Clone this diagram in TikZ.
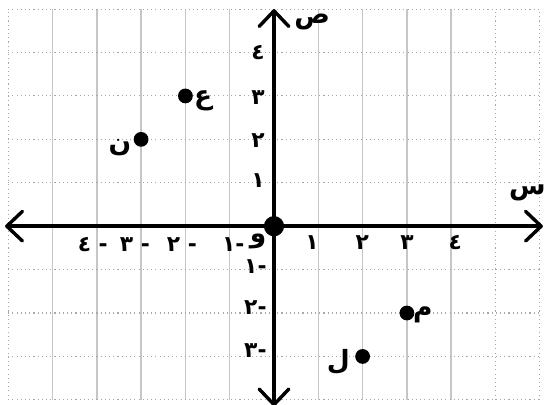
\documentclass[tikz,border=0pt]{standalone}
\usepackage{fontspec}
\usepackage{xcolor}
\usepackage{tikz}
\usetikzlibrary{arrows.meta}
\TeXXeTstate=1
\newfontfamily\arabicfont[Script=Arabic]{DejaVu Sans}
\definecolor{GridGrey}{HTML}{C6C6C6}
\definecolor{DotGrey}{HTML}{A8A8A8}
\tikzset{
  gridv/.style = {draw=GridGrey, line width=1pt},
  gridd/.style = {draw=DotGrey, line width=0.7pt, dotted},
  axis/.style  = {draw=black, line width=2.5pt, line cap=round,
                  {Straight Barb[length=10pt,width=19pt,line width=2.2pt,round]}-{Straight Barb[length=10pt,width=19pt,line width=2.2pt,round]}},
  pnt/.style   = {circle, fill=black, inner sep=0pt, minimum size=9.5pt},
  orig/.style  = {pnt, minimum size=13pt},
  num/.style   = {font=\arabicfont\bfseries\fontsize{14}{14}\selectfont, inner sep=0pt},
  lbl/.style   = {font=\arabicfont\bfseries\fontsize{17}{17}\selectfont, inner sep=0pt},
}

\begin{document}
\begin{tikzpicture}[x=1cm, y=0.98cm]

  \useasboundingbox (-6.185,-4.10) rectangle (6.117,5.21);

  % grid
  \foreach \x in {-5,...,4}
    \draw[gridv] (\x,-4) -- (\x,5);
  \foreach \x in {-6,5,6}
    \draw[gridd] (\x,-4) -- (\x,5);
  \foreach \y in {-4,...,5}
    \draw[gridd] (-6,\y) -- (6,\y);

  % axes
  \coordinate (xl) at (-6.07,0);
  \coordinate (xr) at (6.07,0);
  \coordinate (yt) at (0,5.0);
  \coordinate (yb) at (0,-4.15);
  \draw[axis] (xl) -- (xr);
  \draw[axis] (yb) -- (yt);

  \node[lbl] (ylab) at (0.86,4.70) {\beginR ص\endR};
  \node[lbl] (xlab) at (5.72,0.76) {\beginR س\endR};

  % ticks on x
  \node[num] (x1) at (0.86,-0.38) {١};
  \node[num] (x2) at (1.99,-0.38) {٢};
  \node[num] (x3) at (3.00,-0.38) {٣};
  \node[num] (x4) at (4.09,-0.38) {٤};
  \node[num] (xm1) at (-0.92,-0.42) {\beginR -١\endR};
  \node[num] (xm2) at (-2.08,-0.42) {\beginR - ٢\endR};
  \node[num] (xm3) at (-3.14,-0.42) {\beginR - ٣\endR};
  \node[num] (xm4) at (-4.09,-0.42) {\beginR - ٤\endR};
  \node[lbl] (o) at (-0.36,-0.36) {\beginR و\endR};

  % ticks on y
  \node[num] (y1) at (-0.36,1.06) {١};
  \node[num] (y2) at (-0.36,1.98) {٢};
  \node[num] (y3) at (-0.36,2.97) {٣};
  \node[num] (y4) at (-0.36,3.99) {٤};
  \node[num] (ym1) at (-0.42,-0.94) {\beginR -١\endR};
  \node[num] (ym2) at (-0.42,-1.87) {\beginR -٢\endR};
  \node[num] (ym3) at (-0.42,-2.86) {\beginR -٣\endR};

  % points
  \node[orig] (org) at (0,0) {};
  \node[pnt] (pn) at (-3,2) {};
  \node[pnt] (pa) at (-2,3) {};
  \node[pnt] (pm) at (3,-2) {};
  \node[pnt] (pl) at (2,-3) {};
  \node[lbl] (ln) at (-3.48,1.80) {\beginR ن\endR};
  \node[lbl] (la) at (-1.60,2.90) {\beginR ع\endR};
  \node[lbl] (lm) at (3.36,-2.05) {\beginR م\endR};
  \node[lbl] (ll) at (1.45,-3.13) {\beginR ل\endR};

\end{tikzpicture}
\end{document}
